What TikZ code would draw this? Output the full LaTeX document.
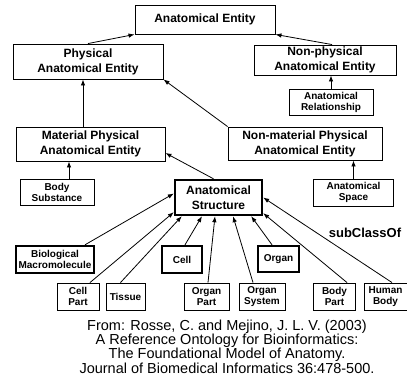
\documentclass[tikz,border=0pt]{standalone}
\usepackage{fontspec}
\setmainfont{Liberation Sans}
\usetikzlibrary{arrows.meta}

\begin{document}
\begin{tikzpicture}[x=1pt,y=-1pt,
    >={Latex[length=6pt,width=4.5pt]},
    every node/.style={inner sep=0pt,align=center},
    bigbox/.style={draw,line width=0.9pt,font=\bfseries\fontsize{12}{15}\selectfont},
    smallbox/.style={draw,line width=0.9pt,font=\bfseries\fontsize{10}{11}\selectfont},
    keybox/.style={smallbox,line width=2.4pt},
    isa/.style={->,line width=0.8pt}]
  \useasboundingbox (0,0) rectangle (407,386);
  % upper part of the hierarchy
  \node[bigbox,minimum width=140,minimum height=29] (ae) at (205,19.5) {Anatomical Entity};
  \node[bigbox,minimum width=150,minimum height=35] (pae) at (88,61.5) {Physical\\Anatomical Entity};
  \node[bigbox,minimum width=142,minimum height=30] (npae) at (325,60) {Non-physical\\Anatomical Entity};
  \node[smallbox,minimum width=84,minimum height=26] (ar) at (331,102) {Anatomical\\Relationship};
  \node[bigbox,minimum width=149,minimum height=34] (mpae) at (90.5,144) {Material Physical\\Anatomical Entity};
  \node[bigbox,minimum width=154,minimum height=33] (nmpae) at (305,143.5) {Non-material Physical\\Anatomical Entity};
  \node[smallbox,minimum width=74,minimum height=26] (bs) at (57,192) {Body\\Substance};
  \node[smallbox,minimum width=80,minimum height=27] (as) at (353.5,192.5) {Anatomical\\Space};
  \node[bigbox,line width=2.4pt,minimum width=87,minimum height=35] (ast) at (218.5,197.5) {Anatomical\\Structure};
  % kinds of anatomical structure
  \node[keybox,minimum width=78,minimum height=27] (bm) at (55,259.5) {Biological\\Macromolecule};
  \node[keybox,minimum width=40,minimum height=27] (cell) at (182,259.5) {Cell};
  \node[keybox,minimum width=41,minimum height=26] (organ) at (278.5,259) {Organ};
  \node[smallbox,minimum width=42,minimum height=27] (cp) at (78,296.5) {Cell\\Part};
  \node[smallbox,minimum width=39,minimum height=27] (tis) at (125.5,296.5) {Tissue};
  \node[smallbox,minimum width=45,minimum height=27] (op) at (206.5,296.5) {Organ\\Part};
  \node[smallbox,minimum width=46,minimum height=27] (os) at (262,296.5) {Organ\\System};
  \node[smallbox,minimum width=42,minimum height=27] (bp) at (334.5,296.5) {Body\\Part};
  \node[smallbox,minimum width=43,minimum height=27] (hb) at (385.5,296.5) {Human\\Body};
  \node[font=\bfseries\fontsize{13}{15}\selectfont] (sco) at (365,233) {subClassOf};
  \node[font=\fontsize{14.5}{14.4}\selectfont] (src) at (227,346.5)
    {From: Rosse, C. and Mejino, J. L. V. (2003)\\A Reference Ontology for Bioinformatics:\\The Foundational Model of Anatomy.\\Journal of Biomedical Informatics 36:478-500.};
  % subclass arrows
  \draw[isa] (pae.north) -- (ae.south west);
  \draw[isa] ([xshift=7]npae.north) -- (ae.south east);
  \draw[isa] (ar.north) -- (ar.north |- npae.south);
  \draw[isa] ([xshift=-5]pae.south |- mpae.north) -- ([xshift=-5]pae.south);
  \draw[isa] (nmpae.north west) -- (pae.south east);
  \draw[isa] ([xshift=12]bs.north) -- ([xshift=12]bs.north |- mpae.south);
  \draw[isa] (as.north) -- (as.north |- nmpae.south);
  \draw[isa] ([xshift=-5]ast.north) -- ([yshift=-9]mpae.east);
  \draw[isa] ([xshift=30]bm.north) -- ([yshift=4]ast.west);
  \draw[isa] ([xshift=12]cp.north) -- ([yshift=4]ast.south west);
  \draw[isa] ([xshift=-5]tis.north) -- ([xshift=8]ast.south west);
  \draw[isa] ([xshift=3]cell.north) -- ([xshift=-16.5]ast.south);
  \draw[isa] ([xshift=1.5]op.north) -- ([xshift=-3.5]ast.south);
  \draw[isa] ([xshift=-9]os.north) -- ([xshift=14.5]ast.south);
  \draw[isa] ([xshift=-6.5]organ.north) -- ([xshift=-12]ast.south east);
  \draw[isa] ([xshift=12.5]bp.north) -- ([yshift=3]ast.south east);
  \draw[isa] ([xshift=6.5]hb.north) -- (ast.east);
\end{tikzpicture}
\end{document}
